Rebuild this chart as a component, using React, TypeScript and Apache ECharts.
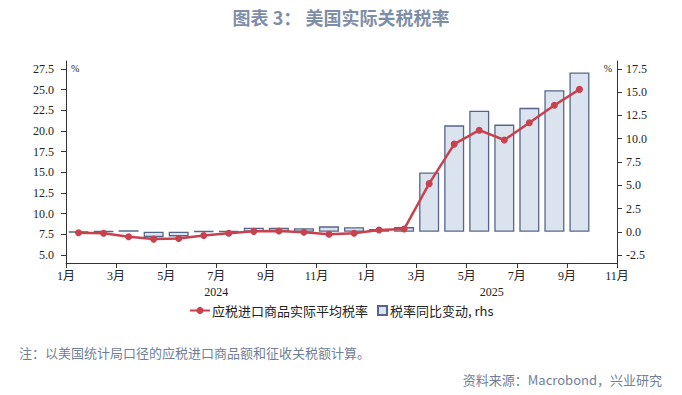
import React, { useEffect, useRef } from 'react';
import * as echarts from 'echarts';

// Months Jan 2024 .. Sep 2025
const months = [
  '2024-01', '2024-02', '2024-03', '2024-04', '2024-05', '2024-06', '2024-07',
  '2024-08', '2024-09', '2024-10', '2024-11', '2024-12',
  '2025-01', '2025-02', '2025-03', '2025-04', '2025-05', '2025-06', '2025-07',
  '2025-08', '2025-09',
];

// 应税进口商品实际平均税率 (left axis, %)
const avgTariffRate = [
  7.70, 7.64, 7.20, 6.92, 7.00, 7.35, 7.62, 7.86, 7.90, 7.75, 7.50, 7.62,
  8.02, 8.14, 13.63, 18.41, 20.10, 18.91, 21.00, 23.12, 25.04,
];

// 税率同比变动 (right axis, %)
const yoyChange = [
  -0.05, 0.05, 0.15, -0.58, -0.50, 0.05, 0.05, 0.44, 0.42, 0.37, 0.58, 0.48,
  0.30, 0.50, 6.37, 11.44, 13.02, 11.52, 13.32, 15.22, 17.12,
];

const leftTicks = [5, 7.5, 10, 12.5, 15, 17.5, 20, 22.5, 25, 27.5];
const rightTicks = [-2.5, 0, 2.5, 5, 7.5, 10, 12.5, 15, 17.5];
const yearLabels = ['2024', '2025'];
const yearLabelPos = [6, 17];

const lineName = '应税进口商品实际平均税率';
const barName = '税率同比变动, rhs';

const serif = '"Liberation Serif", "Noto Sans CJK SC", serif';
const cjk = '"Noto Sans CJK SC", sans-serif';

export default function App() {
  const ref = useRef<HTMLDivElement>(null);

  useEffect(() => {
    const chart = echarts.init(ref.current!, null, { renderer: 'svg' });
    const axisLineStyle = { color: '#333', width: 1 };
    chart.setOption({
      animation: false,
      backgroundColor: '#fff',
      title: {
        text: '图表 3： 美国实际关税税率',
        left: 'center',
        top: 3,
        textStyle: { fontSize: 18, fontWeight: 'bold', color: '#7f8ea8', fontFamily: cjk },
      },
      grid: { left: 66, right: 65, top: 61, bottom: 132 },
      legend: [
        {
          data: [lineName],
          left: 184,
          top: 299,
          itemWidth: 20,
          itemHeight: 9,
          itemGap: 10,
          textStyle: { fontSize: 13, color: '#222', fontFamily: cjk, padding: [0, 0, 0, -3] },
        },
        {
          data: [{ name: barName, icon: 'rect' }],
          left: 372,
          top: 299,
          itemWidth: 9,
          itemHeight: 9,
          textStyle: { fontSize: 13, color: '#222', fontFamily: cjk, padding: [0, 0, 0, -2] },
        },
      ],
      xAxis: [
        {
          type: 'value',
          min: 0,
          max: 22,
          interval: 2,
          axisLine: { show: true, onZero: false, lineStyle: axisLineStyle },
          axisTick: { show: true, length: 5, lineStyle: axisLineStyle },
          splitLine: { show: false },
          axisLabel: {
            margin: 7,
            fontSize: 12,
            color: '#222',
            fontFamily: serif,
            formatter: (v: number) => `${(v % 12) + 1}月`,
          },
        },
        {
          type: 'value',
          position: 'bottom',
          offset: 16,
          min: 0,
          max: 22,
          axisLine: { show: false },
          axisTick: { show: false },
          splitLine: { show: false },
          axisLabel: {
            margin: 7,
            fontSize: 12,
            color: '#222',
            fontFamily: serif,
            customValues: yearLabelPos,
            formatter: (v: number) => (v < 12 ? yearLabels[0] : yearLabels[1]),
          },
        },
      ],
      yAxis: [
        {
          type: 'value',
          position: 'left',
          min: 4.03,
          max: 28.47,
          axisLine: { show: true, onZero: false, lineStyle: axisLineStyle },
          axisTick: { show: true, length: 5, lineStyle: axisLineStyle, customValues: leftTicks },
          splitLine: { show: false },
          axisLabel: {
            margin: 12,
            fontSize: 12,
            color: '#222',
            fontFamily: serif,
            customValues: leftTicks,
            formatter: (v: number) => v.toFixed(1),
          },
        },
        {
          type: 'value',
          position: 'right',
          min: -3.36,
          max: 18.36,
          axisLine: { show: true, onZero: false, lineStyle: axisLineStyle },
          axisTick: { show: true, length: 5, lineStyle: axisLineStyle, customValues: rightTicks },
          splitLine: { show: false },
          axisLabel: {
            margin: 9,
            fontSize: 12,
            color: '#222',
            fontFamily: serif,
            customValues: rightTicks,
            formatter: (v: number) => v.toFixed(1),
          },
        },
      ],
      series: [
        {
          name: barName,
          type: 'bar',
          xAxisIndex: 0,
          yAxisIndex: 1,
          barWidth: 20,
          data: months.map((_, i) => [i + 0.5, yoyChange[i]]),
          itemStyle: { color: '#dbe3ef', borderColor: '#56668a', borderWidth: 1.3 },
          z: 2,
        },
        {
          name: lineName,
          type: 'line',
          xAxisIndex: 0,
          yAxisIndex: 0,
          data: months.map((_, i) => [i + 0.5, avgTariffRate[i]]),
          symbol: 'circle',
          symbolSize: 7,
          lineStyle: { color: '#c8414f', width: 2.5 },
          itemStyle: { color: '#c8414f' },
          z: 3,
        },
      ],
      graphic: [
        {
          type: 'text',
          left: 71,
          top: 63,
          style: { text: '%', font: `10px ${serif}`, fill: '#222' },
        },
        {
          type: 'text',
          right: 70,
          top: 63,
          style: { text: '%', font: `10px ${serif}`, fill: '#222' },
        },
        {
          type: 'text',
          left: 19,
          top: 346,
          style: {
            text: '注：以美国统计局口径的应税进口商品额和征收关税额计算。',
            font: `13px ${cjk}`,
            fill: '#6f7f9a',
          },
        },
        {
          type: 'text',
          right: 20,
          top: 373,
          style: {
            text: '资料来源：Macrobond，兴业研究',
            font: `13px ${cjk}`,
            fill: '#6f7f9a',
          },
        },
      ],
    });
    return () => chart.dispose();
  }, []);

  return (
    <div
      ref={ref}
      style={{ position: 'absolute', left: 0, top: 0, width: 682, height: 395, background: '#fff' }}
    />
  );
}
